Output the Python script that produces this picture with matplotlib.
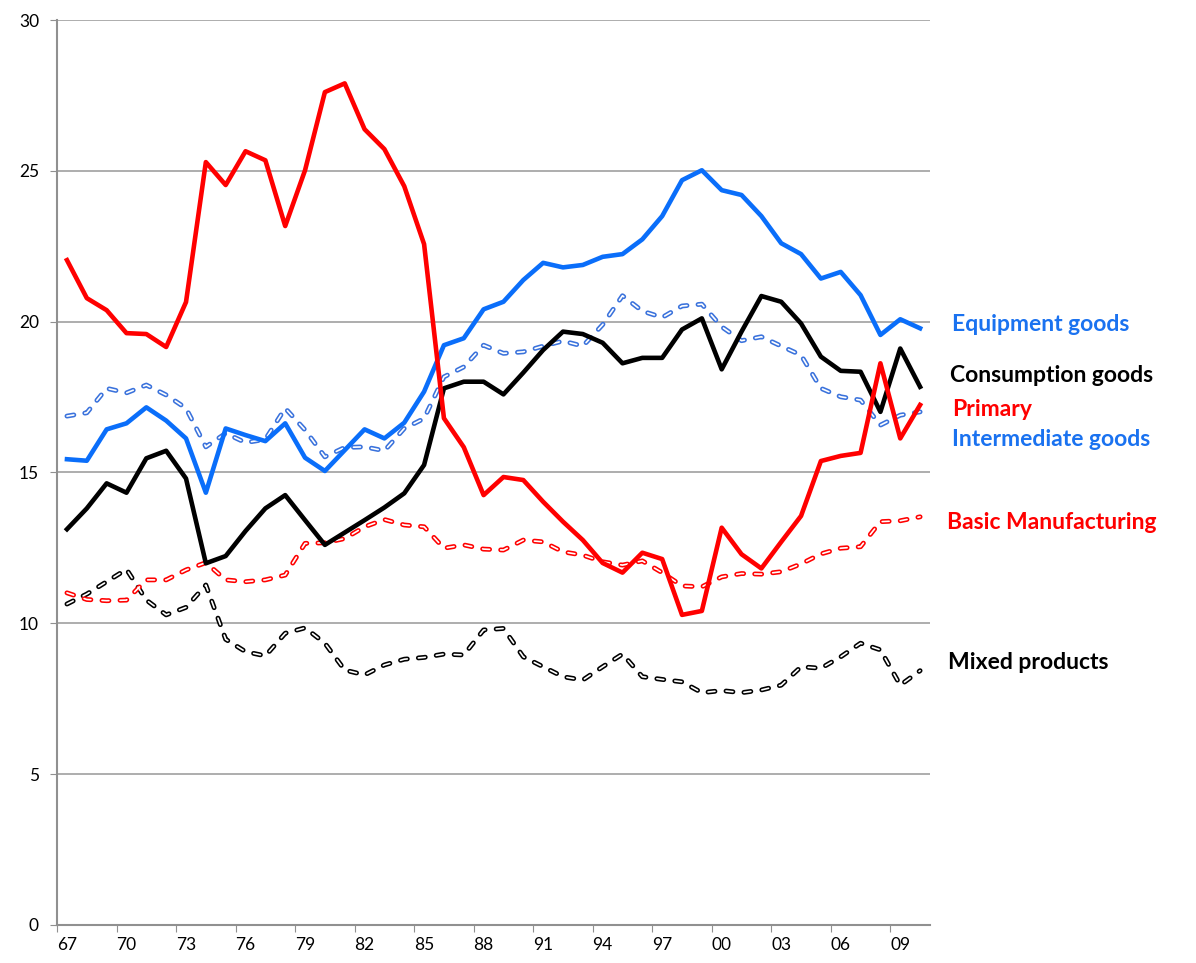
import matplotlib
matplotlib.use("Agg")
import matplotlib.pyplot as plt
import numpy as np

years = ["67", "68", "69", "70", "71", "72", "73", "74", "75", "76", "77", "78", "79", "80",
         "81", "82", "83", "84", "85", "86", "87", "88", "89", "90", "91", "92", "93", "94",
         "95", "96", "97", "98", "99", "00", "01", "02", "03", "04", "05", "06", "07", "08",
         "09", "10"]

primary = [22.04, 20.78, 20.38, 19.62, 19.59, 19.16, 20.65, 25.29, 24.53, 25.65, 25.35,
           23.17, 25.02, 27.61, 27.90, 26.38, 25.72, 24.49, 22.57, 16.80, 15.84, 14.25,
           14.85, 14.75, 14.03, 13.37, 12.76, 12.00, 11.68, 12.34, 12.13, 10.28, 10.41,
           13.17, 12.29, 11.82, 12.70, 13.56, 15.38, 15.55, 15.65, 18.62, 16.13, 17.24]

equipment = [15.44, 15.39, 16.43, 16.63, 17.16, 16.72, 16.13, 14.33, 16.46, 16.24, 16.04,
             16.63, 15.49, 15.05, 15.74, 16.43, 16.13, 16.65, 17.68, 19.22, 19.45, 20.41,
             20.66, 21.38, 21.95, 21.80, 21.88, 22.15, 22.24, 22.73, 23.50, 24.69, 25.02,
             24.36, 24.20, 23.50, 22.60, 22.24, 21.43, 21.65, 20.88, 19.56, 20.08, 19.78]

consumption = [13.12, 13.81, 14.64, 14.33, 15.47, 15.72, 14.80, 11.99, 12.23, 13.06, 13.81,
               14.25, 13.42, 12.60, 13.01, 13.42, 13.84, 14.31, 15.25, 17.79, 18.01, 18.01,
               17.59, 18.31, 19.06, 19.67, 19.59, 19.30, 18.62, 18.80, 18.80, 19.74, 20.11,
               18.42, 19.67, 20.85, 20.66, 19.94, 18.84, 18.37, 18.34, 17.01, 19.11, 17.84]

intermediate = [16.87, 16.98, 17.79, 17.64, 17.90, 17.57, 17.13, 15.85, 16.30, 15.99, 16.10,
                17.13, 16.41, 15.52, 15.83, 15.85, 15.72, 16.46, 16.79, 18.17, 18.50, 19.22,
                18.95, 19.00, 19.19, 19.36, 19.19, 19.90, 20.86, 20.35, 20.14, 20.52, 20.58,
                19.83, 19.37, 19.50, 19.19, 18.89, 17.79, 17.51, 17.40, 16.57, 16.90, 17.01]

basic = [11.01, 10.79, 10.75, 10.77, 11.44, 11.44, 11.77, 12.01, 11.44, 11.38, 11.44, 11.60,
         12.65, 12.67, 12.81, 13.20, 13.44, 13.26, 13.20, 12.49, 12.60, 12.46, 12.43, 12.76,
         12.70, 12.37, 12.26, 12.04, 11.93, 12.07, 11.68, 11.24, 11.21, 11.54, 11.65, 11.63,
         11.71, 11.97, 12.30, 12.49, 12.54, 13.37, 13.40, 13.53]

mixed = [10.64, 10.97, 11.38, 11.79, 10.77, 10.28, 10.53, 11.27, 9.47, 9.06, 8.92, 9.67,
         9.85, 9.34, 8.45, 8.29, 8.62, 8.81, 8.87, 8.98, 8.95, 9.78, 9.83, 8.89, 8.56, 8.23,
         8.12, 8.56, 8.98, 8.23, 8.14, 8.06, 7.70, 7.77, 7.70, 7.79, 7.95, 8.56, 8.51, 8.89,
         9.34, 9.12, 7.95, 8.43]

BLUE = "#0A6EFA"
BLUE_D = "#3A72DC"
BLUE_T = "#1A72F0"
RED = "#FF0000"
BLACK = "#000000"

plt.rcParams["font.family"] = ["Lato", "DejaVu Sans"]
plt.rcParams["lines.scale_dashes"] = False

fig = plt.figure(figsize=(11.96, 9.63), dpi=100)
ax = fig.add_axes([0.0477, 0.0395, 0.7299, 0.9397])

x = np.arange(len(years))


def outlined_dash(vals, color):
    ax.plot(x, vals, color=color, lw=3.5, dashes=(5.0, 8.0), dash_capstyle="round",
            zorder=3)
    ax.plot(x, vals, color="white", lw=1.2, dashes=(5.0, 8.0), dash_capstyle="round",
            zorder=3.1)


outlined_dash(mixed, BLACK)
outlined_dash(basic, RED)
outlined_dash(intermediate, BLUE_D)
ax.plot(x, consumption, color=BLACK, lw=3.3, zorder=4)
ax.plot(x, equipment, color=BLUE, lw=3.3, zorder=4)
ax.plot(x, primary, color=RED, lw=3.3, zorder=5)

ax.set_xlim(-0.5, len(years) - 0.5)
ax.set_ylim(0, 30)
ax.set_yticks(np.arange(0, 31, 5))
ax.yaxis.grid(True, color="#a0a0a0", lw=1.2)
ax.set_axisbelow(True)

ax.set_xticks(np.arange(-0.5, len(years), 3))
ax.set_xticklabels([])
ax.set_xticks(np.arange(0, len(years), 3), minor=True)
ax.set_xticklabels(years[::3], minor=True)
ax.tick_params(axis="x", which="minor", length=0, labelsize=12.5, pad=9)
ax.tick_params(axis="x", which="major", length=5, color="#909090")
ax.tick_params(axis="y", length=5, color="#909090", labelsize=12.5, pad=8)

for s in ["top", "right"]:
    ax.spines[s].set_visible(False)
for s in ["left", "bottom"]:
    ax.spines[s].set_color("#909090")
    ax.spines[s].set_linewidth(1.5)

labels = [("Equipment goods", 19.9, BLUE_T, 44.6),
          ("Consumption goods", 18.2, BLACK, 44.5),
          ("Primary", 17.1, RED, 44.6),
          ("Intermediate goods", 16.1, BLUE_T, 44.6),
          ("Basic Manufacturing", 13.35, RED, 44.35),
          ("Mixed products", 8.7, BLACK, 44.4)]
for txt, yv, col, xv in labels:
    ax.text(xv, yv, txt, color=col, fontsize=16.5, fontweight="bold",
            va="center", ha="left", clip_on=False)

fig.savefig("out.png", dpi=100)
